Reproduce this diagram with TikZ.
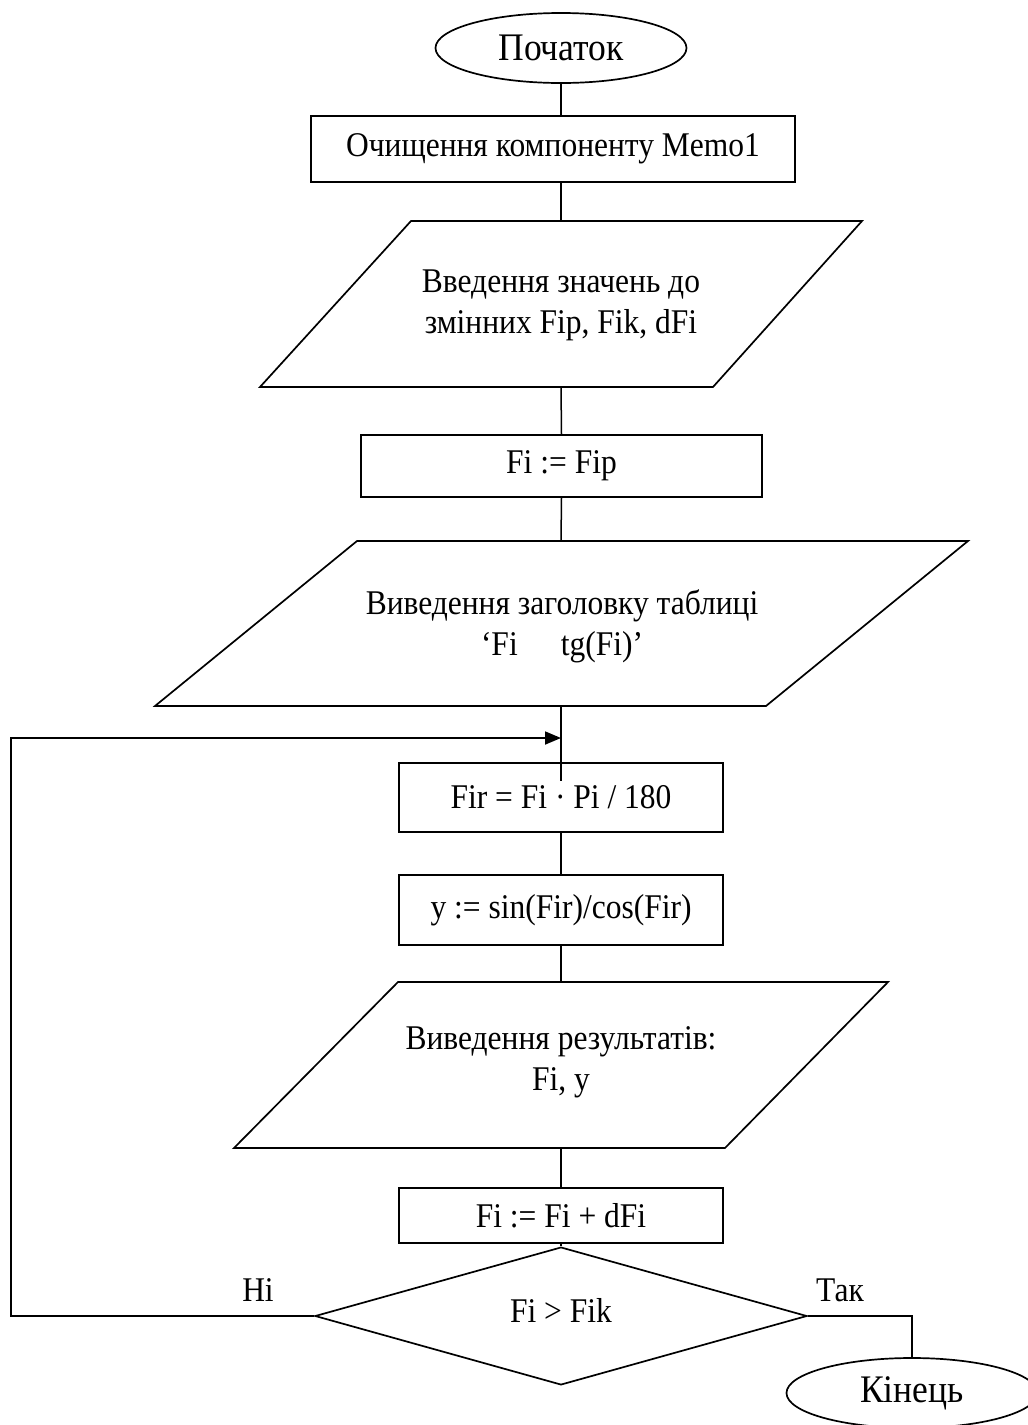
\documentclass[tikz,border=0pt]{standalone}
\usepackage{graphicx}
\usepackage{fontspec}
\setmainfont{Liberation Serif}
\usetikzlibrary{arrows.meta,shapes.geometric}
\newcommand{\vs}[1]{\scalebox{1}[1.1]{#1}}
\newcommand{\twolines}[2]{\vs{\begin{tabular}{@{}c@{}}#1\\#2\end{tabular}}}
\begin{document}
\begin{tikzpicture}[x=1pt,y=-1pt,
  line width=1.7pt,
  txt/.style={font=\fontsize{31.5}{36.5}\selectfont, align=center, inner sep=0pt},
  term/.style={draw, ellipse, minimum width=251pt, minimum height=70pt, inner sep=0pt, font=\fontsize{35.5}{40}\selectfont},
  proc/.style={draw, rectangle, inner sep=0pt, font=\fontsize{31.5}{40}\selectfont},
  decide/.style={draw, diamond, inner sep=0pt, minimum width=492pt, minimum height=128pt, font=\fontsize{31.5}{40}\selectfont},
  conn/.style={line width=1.5pt},
  lbl/.style={font=\fontsize{31.5}{40}\selectfont, inner sep=0pt}]
\useasboundingbox (0,0) rectangle (1028,1425);

% start
\node[term] (start) at (561,48) {\vs{Початок}};

% clear
\node[proc, minimum width=484pt, minimum height=66pt] (clr) at (553,149) {\vs{Очищення компоненту Memo1}};

% input parallelogram
\coordinate (in1tl) at (411,221);
\coordinate (in1tr) at (862,221);
\coordinate (in1br) at (713,387);
\coordinate (in1bl) at (260,387);
\coordinate (in1t) at (561,221);
\coordinate (in1b) at (561,387);
\draw (in1tl) -- (in1tr) -- (in1br) -- (in1bl) -- cycle;
\node[txt] (in1) at (561,305) {\twolines{Введення значень до}{змінних Fip, Fik, dFi}};

% Fi := Fip
\node[proc, minimum width=401pt, minimum height=62pt] (init) at (561.5,466) {\vs{Fi := Fip}};

% header output parallelogram
\coordinate (out1tl) at (357,541);
\coordinate (out1tr) at (968,541);
\coordinate (out1br) at (766,706);
\coordinate (out1bl) at (155,706);
\coordinate (out1t) at (561,541);
\coordinate (out1b) at (561,706);
\draw (out1tl) -- (out1tr) -- (out1br) -- (out1bl) -- cycle;
\node[txt] (out1) at (562,627) {\twolines{Виведення заголовку таблиці}{‘Fi\hspace{43pt}tg(Fi)’}};

% Fir
\node[proc, minimum width=324pt, minimum height=69pt] (fir) at (561,797.5) {\vs{Fir = Fi · Pi / 180}};
\coordinate (firin) at (561,781);
\coordinate (join) at (561,738);
\coordinate (lc) at (11,738);

% y
\node[proc, minimum width=324pt, minimum height=70pt] (tg) at (561,910) {\vs{y := sin(Fir)/cos(Fir)}};

% result output parallelogram
\coordinate (out2tl) at (398,982);
\coordinate (out2tr) at (888,982);
\coordinate (out2br) at (725,1148);
\coordinate (out2bl) at (234,1148);
\coordinate (out2t) at (561,982);
\coordinate (out2b) at (561,1148);
\draw (out2tl) -- (out2tr) -- (out2br) -- (out2bl) -- cycle;
\node[txt] (out2) at (561,1062) {\twolines{Виведення результатів:}{Fi, y}};

% Fi := Fi + dFi
\node[proc, minimum width=324pt, minimum height=55pt] (inc) at (561,1215.5) {\vs{Fi := Fi + dFi}};

% condition
\node[decide] (cond) at (561,1316) {\raisebox{12pt}{\vs{Fi > Fik}}};
\node[lbl] (no) at (258,1290) {\vs{Ні}};
\node[lbl] (yes) at (840,1290) {\vs{Так}};

% end
\node[term] (end) at (912,1393) {\vs{Кінець}};

% connectors
\draw[conn] (start.south) -- (start.south |- clr.north);
\draw[conn] (start.south |- clr.south) -- (in1t);
\draw[conn] (in1b) -- (init.north);
\draw[conn] (init.south) -- (out1t);
\draw[conn] (out1b) -- (firin);
\draw[conn] (fir.south) -- (tg.north);
\draw[conn] (tg.south) -- (out2t);
\draw[conn] (out2b) -- (inc.north);
\draw[conn] (inc.south) -- (cond.north);
\draw[line width=1.8pt, -{Triangle[length=16pt,width=13pt]}] (cond.west) -| (lc) -- (join);
\draw[conn] (cond.east) -| (end.north);
\end{tikzpicture}
\end{document}
